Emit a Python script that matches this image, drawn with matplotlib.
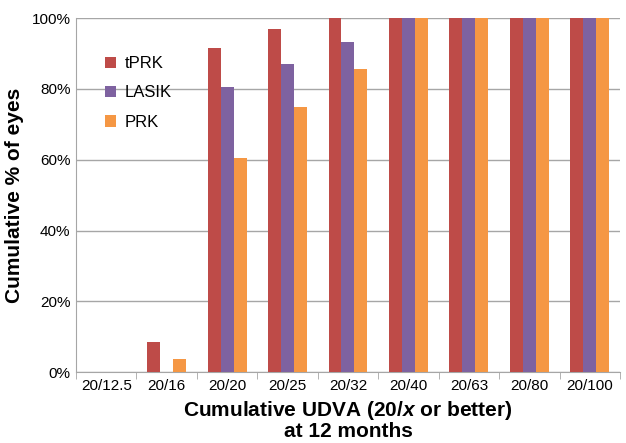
import numpy as np
import matplotlib
matplotlib.use("Agg")
import matplotlib.pyplot as plt
from matplotlib.ticker import FixedLocator, PercentFormatter

plt.rcParams["font.family"] = ["Liberation Sans", "DejaVu Sans"]
plt.rcParams["mathtext.fontset"] = "custom"
plt.rcParams["mathtext.it"] = "Liberation Sans:italic:bold"
plt.rcParams["mathtext.rm"] = "Liberation Sans:bold"

categories = ["20/12.5", "20/16", "20/20", "20/25", "20/32",
              "20/40", "20/63", "20/80", "20/100"]
tprk = [0, 8.5, 91.5, 97.0, 100, 100, 100, 100, 100]
lasik = [0, 0, 80.5, 87.0, 93.3, 100, 100, 100, 100]
prk = [0, 3.6, 60.6, 75.0, 85.5, 100, 100, 100, 100]

series = [("tPRK", tprk, "#BE4B48"),
          ("LASIK", lasik, "#7E62A0"),
          ("PRK", prk, "#F59744")]

fig = plt.figure(figsize=(6.26, 4.43), dpi=100)
ax = fig.add_axes([0.1214, 0.160, 0.869, 0.799])

x = np.arange(len(categories))
width = 0.215
for i, (name, vals, color) in enumerate(series):
    ax.bar(x + (i - 1) * width, vals, width, color=color, label=name, zorder=3)

ax.set_xlim(-0.5, len(categories) - 0.5)
ax.set_ylim(0, 100)
ax.set_yticks(np.arange(0, 101, 20))
ax.yaxis.set_major_formatter(PercentFormatter(decimals=0))
ax.grid(axis="y", color="#A6A6A6", linewidth=1.0, zorder=0)
ax.set_axisbelow(True)

ax.set_xticks(x)
ax.set_xticklabels(categories)
ax.xaxis.set_minor_locator(FixedLocator(np.arange(-0.5, len(categories), 1.0)))
ax.tick_params(axis="x", which="major", length=0, labelsize=11, pad=5)
ax.tick_params(axis="x", which="minor", length=5, color="#A6A6A6", direction="out")
ax.tick_params(axis="y", length=0, labelsize=11, pad=4)

for side in ["top", "right"]:
    ax.spines[side].set_visible(False)
for side in ["left", "bottom"]:
    ax.spines[side].set_color("#A6A6A6")

ax.set_ylabel("Cumulative % of eyes", fontsize=15, fontweight="bold", labelpad=5)
ax.set_xlabel("Cumulative UDVA (20/$x$ or better)\nat 12 months",
              fontsize=15, fontweight="bold", labelpad=4, linespacing=1.05)

ax.legend(loc="upper left", bbox_to_anchor=(0.025, 0.935), frameon=False,
          fontsize=12, handlelength=0.7, handleheight=0.7, labelspacing=0.85,
          handletextpad=0.5)

fig.savefig("out.png", dpi=100)
